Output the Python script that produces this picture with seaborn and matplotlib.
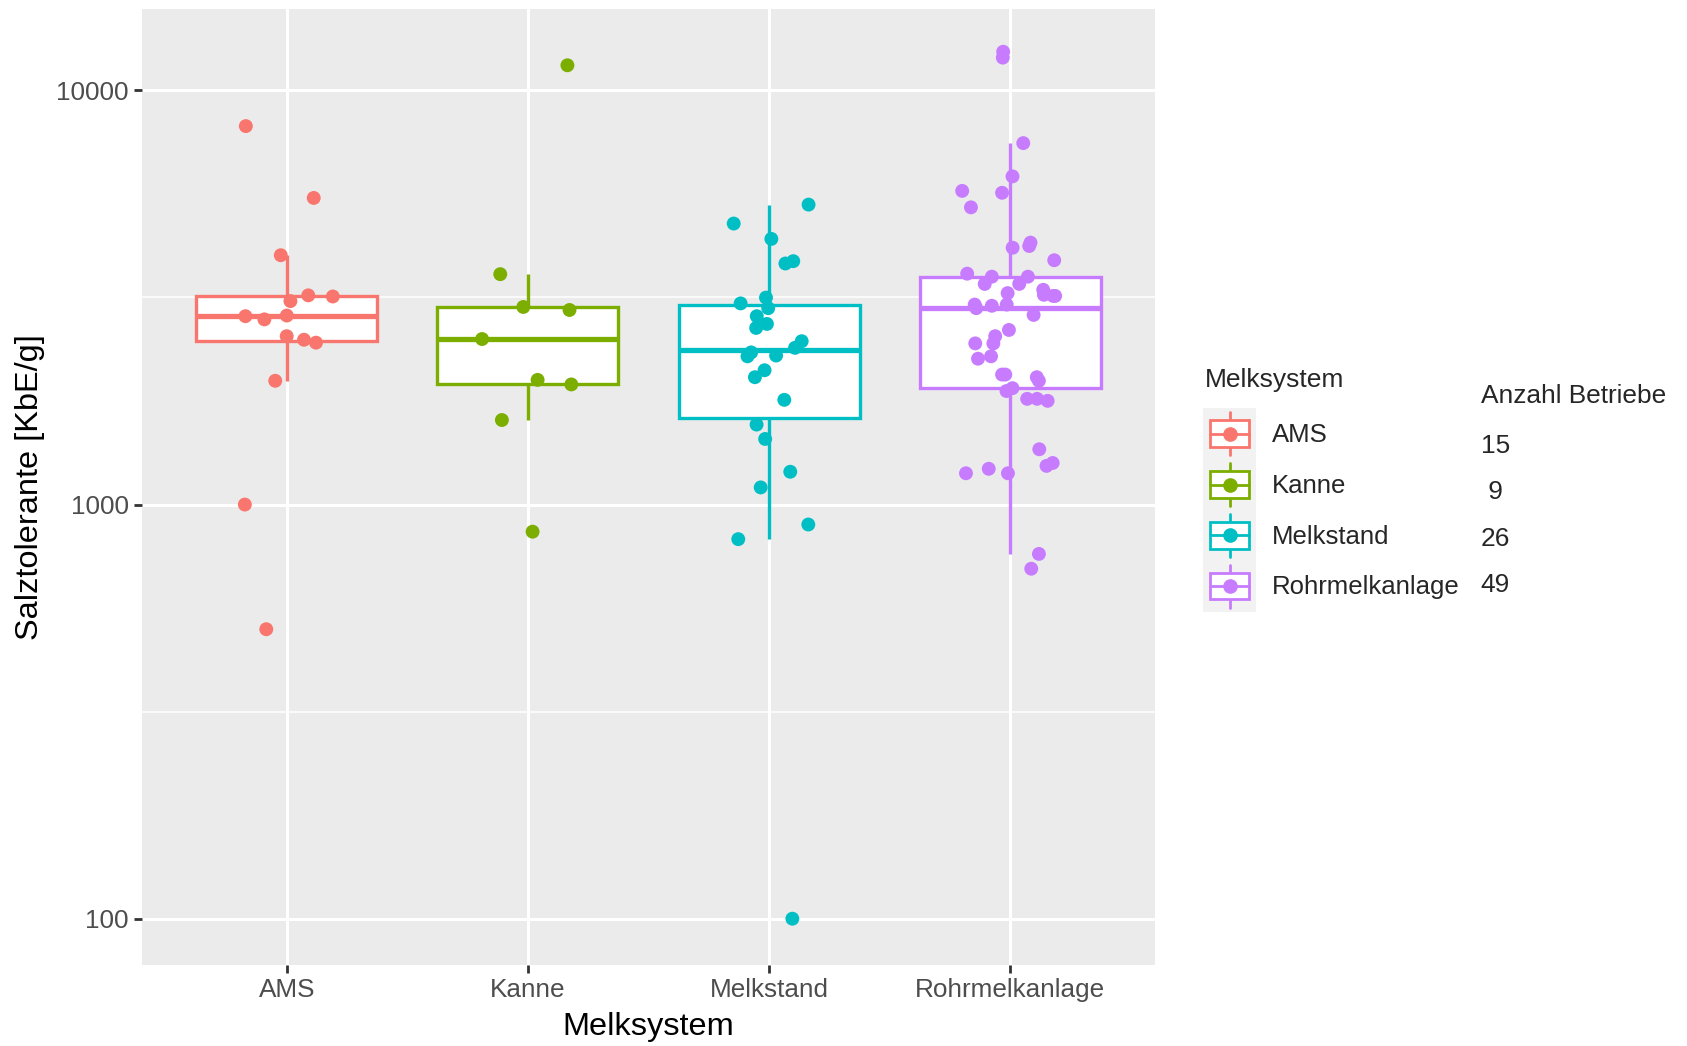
import numpy as np
import pandas as pd
import matplotlib
matplotlib.use("Agg")
import matplotlib.pyplot as plt
from matplotlib.lines import Line2D
from matplotlib.patches import Rectangle
from matplotlib.legend_handler import HandlerBase
from matplotlib.ticker import FixedLocator, NullFormatter
import seaborn as sns

# values (KbE/g)
ams = [8200, 5500, 4000, 3200, 3180, 3100, 2860, 2850, 2800, 2550, 2500, 2460, 1990, 1000, 500]
kanne = [11500, 3600, 3000, 2950, 2510, 2000, 1950, 1600, 860]
melkstand = [5300, 4770, 4380, 3870, 3820, 3160, 3060, 2980, 2850, 2730, 2670, 2480, 2390,
             2330, 2290, 2280, 2110, 2030, 1790, 1560, 1440, 1200, 1100, 895, 825, 100]
rohrmelkanlage = [12000, 12400, 7460, 6200, 5660, 5720, 5220, 4290, 4170, 4210, 3890, 3550, 3610,
                  3550, 3410, 3410, 3190, 3190, 3210, 3240, 3300, 3040, 3020, 3040, 2870, 2640,
                  2450, 2550, 2450, 2280, 2250, 2060, 2060, 2030, 1990, 1910, 1880, 1800, 1780,
                  1800, 1360, 1260, 1190, 1240, 1220, 1190, 760, 700, 2980]

systems = ["AMS", "Kanne", "Melkstand", "Rohrmelkanlage"]
colors = ["#F8766D", "#7CAE00", "#00BFC4", "#C77CFF"]
y_ticks = [100, 1000, 10000]
y_ticklabels = ["100", "1000", "10000"]

series = [ams, kanne, melkstand, rohrmelkanlage]
df = pd.DataFrame({
    "Melksystem": np.repeat(systems, [len(s) for s in series]),
    "Salztoleranz": np.concatenate(series).astype(float),
})
counts = [len(s) for s in series]

sns.set_style("darkgrid", {"axes.facecolor": "#EBEBEB", "grid.color": "white"})
plt.rcParams["font.family"] = ["Liberation Sans", "DejaVu Sans"]

fig = plt.figure(figsize=(16.87, 10.46), dpi=100)
ax = fig.add_axes([142 / 1687, 1 - 965 / 1046, (1155 - 142) / 1687, (965 - 9) / 1046])

# boxes, one call per system so every box gets its own line colour and a white fill
for name, col in zip(systems, colors):
    sns.boxplot(data=df[df["Melksystem"] == name], x="Melksystem", y="Salztoleranz",
                order=systems, color="white", linecolor=col, linewidth=2.4,
                width=0.75, showfliers=False, showcaps=False, log_scale=True,
                medianprops={"linewidth": 3.8}, ax=ax, zorder=2)

np.random.seed(7)
sns.stripplot(data=df, x="Melksystem", y="Salztoleranz", hue="Melksystem",
              order=systems, hue_order=systems, palette=colors, jitter=0.2,
              size=10, linewidth=0, legend=False, ax=ax, zorder=3)

ax.set_yscale("log")
ax.set_ylim(77.3, 15725)
ax.set_xlim(-0.6, 3.6)
ax.yaxis.set_major_locator(FixedLocator(y_ticks))
ax.set_yticklabels(y_ticklabels)
ax.yaxis.set_minor_locator(FixedLocator([10 ** 2.5, 10 ** 3.5]))
ax.yaxis.set_minor_formatter(NullFormatter())

ax.set_axisbelow(True)
ax.grid(which="major", color="white", linewidth=2.2)
ax.grid(which="minor", axis="y", color="white", linewidth=1.1)
for sp in ax.spines.values():
    sp.set_visible(False)

ax.tick_params(which="major", length=6, width=2.0, color="#333333",
               labelsize=18.8, labelcolor="#4D4D4D", pad=3.5, left=True, bottom=True)
ax.tick_params(which="minor", length=0)

ax.set_xlabel("Melksystem", fontsize=23.4, color="black", labelpad=7)
ax.set_ylabel("Salztolerante [KbE/g]", fontsize=23.4, color="black", labelpad=8)


class BoxKey(HandlerBase):
    # ggplot-like boxplot legend key
    def create_artists(self, legend, orig_handle, xdescent, ydescent, width, height, fontsize, trans):
        col = orig_handle.get_color()
        pad = legend.labelspacing * fontsize / 2
        x0, y0 = -xdescent, -ydescent - pad
        h = height + 2 * pad
        cx, cy = x0 + width / 2, y0 + h / 2
        bg = Rectangle((x0, y0), width, h, facecolor="#F2F2F2", edgecolor="none", transform=trans)
        whisk = Line2D([cx, cx], [cy - 0.42 * h, cy + 0.42 * h], color=col, lw=2.0, transform=trans)
        box = Rectangle((x0 + 0.125 * width, cy - 0.26 * h), 0.75 * width, 0.52 * h,
                        facecolor="white", edgecolor=col, lw=2.0, transform=trans)
        med = Line2D([x0 + 0.125 * width, x0 + 0.875 * width], [cy, cy], color=col, lw=2.0, transform=trans)
        dot = Line2D([cx], [cy], marker="o", ms=9.5, color=col, lw=0, transform=trans)
        return [bg, whisk, box, med, dot]


handles = [Line2D([], [], color=c) for c in colors]
fig.text(1205 / 1687, 1 - 386.7 / 1046, "Melksystem", fontsize=19, va="baseline", ha="left")
fig.legend(handles, systems, handler_map={Line2D: BoxKey()},
           loc="upper left", bbox_to_anchor=(1203.3 / 1687, 1 - 414.7 / 1046),
           frameon=False, fontsize=18.5, borderpad=0, borderaxespad=0,
           labelspacing=0.5, handleheight=1.897, handlelength=2.05, handletextpad=0.62)

# counts next to the legend
fig.text(1480.7 / 1687, 1 - 403.3 / 1046, "Anzahl Betriebe", fontsize=18.9, va="baseline", ha="left")
for i, n in enumerate(counts):
    fig.text(1480.7 / 1687, 1 - (453.3 + 46.1 * i) / 1046, f"{n:>2}", fontsize=18.9,
             va="baseline", ha="left")

fig.savefig("out.png", dpi=100, facecolor="white")
